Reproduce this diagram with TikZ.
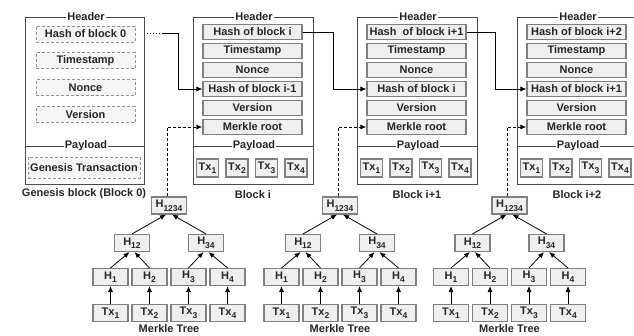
\documentclass[tikz,border=0pt]{standalone}
\usepackage{fontspec}
\setmainfont{Liberation Sans}
\usetikzlibrary{arrows.meta}
\definecolor{boxfill}{HTML}{EFEFEF}
\definecolor{boxline}{HTML}{808080}
\definecolor{framecol}{HTML}{4A4A4A}
\definecolor{ink}{HTML}{262626}
% lowered index used for Tx_k and H_k labels
\newcommand\lowidx[1]{\raisebox{-0.32em}{\fontsize{8.5}{9}\selectfont #1}}

\begin{document}
\begin{tikzpicture}[x=1pt,y=-1pt,
  every node/.style={font=\fontsize{11}{13}\selectfont\bfseries, text=ink},
  field/.style={draw=boxline, fill=boxfill, line width=1.1pt, minimum width=99pt, minimum height=15pt, inner sep=0pt},
  gfield/.style={draw=boxline!85, fill=boxfill!60, line width=0.9pt, dash pattern=on 3pt off 2pt, minimum width=99pt, minimum height=16pt, inner sep=0pt},
  txbox/.style={draw=boxline, fill=boxfill, line width=1.1pt, minimum width=22pt, minimum height=18pt, inner sep=0pt},
  hbox/.style={draw=boxline, fill=boxfill, line width=1.1pt, minimum width=35pt, minimum height=17pt, inner sep=0pt},
  frm/.style={draw=framecol, line width=0.9pt},
  sectag/.style={fill=white, inner sep=1pt},
  link/.style={draw=black, line width=0.8pt, -{Latex[length=6pt,width=5pt]}},
  dlink/.style={link, dash pattern=on 3pt off 2pt, line width=1pt},
  dotline/.style={draw=black, line width=1.1pt, dash pattern=on 1.1pt off 1.9pt}
]
\useasboundingbox (0,0) rectangle (634,335);
\clip (0,0) rectangle (634,335);

% genesis block
\draw[frm] (25,17) rectangle (144,184);
\draw[frm] (25,146) -- (144,146);
\node[sectag] at (86,17) {Header};
\node[sectag] at (86,146) {Payload};
\node[gfield] (g0) at (85.5,34) {Hash of block 0};
\node[gfield] (g1) at (85.5,60.5) {Timestamp};
\node[gfield] (g2) at (85.5,87.5) {Nonce};
\node[gfield] (g3) at (85.5,114.5) {Version};
\node[gfield, minimum width=112pt, minimum height=21pt] (gtx) at (84,167.5) {Genesis Transaction};
\node (glabel) at (84,194) {Genesis block (Block 0)};

% chained blocks
\foreach \L/\n/\own/\prev/\cap in {
  193/1/{Hash of block i}/{Hash of block i-1}/{Block i},
  357/2/{Hash~ of block i+1}/{Hash of block i}/{Block i+1},
  517/3/{Hash of block i+2}/{Hash of block i+1}/{Block i+2}} {
  \draw[frm] (\L,17) rectangle ({\L+120},184);
  \draw[frm] (\L,146) -- ({\L+120},146);
  \node[sectag] (hd\n) at ({\L+61},17) {Header};
  \node[sectag] (pl\n) at ({\L+61},146) {Payload};
  \node[field] (own\n) at ({\L+59.5},32) {\own};
  \node[field] (ts\n) at ({\L+59.5},51) {Timestamp};
  \node[field] (nc\n) at ({\L+59.5},70) {Nonce};
  \node[field] (prev\n) at ({\L+59.5},89) {\prev};
  \node[field] (ver\n) at ({\L+59.5},108) {Version};
  \node[field] (root\n) at ({\L+59.5},127) {Merkle root};
  \foreach \k/\dx in {1/14.5,2/44,3/73.5,4/103}
    \node[txbox] (p\n\k) at ({\L+\dx},168) {Tx\lowidx{\k}};
  \node (bl\n) at ({\L+60},195) {\cap};
}

% hash links between blocks
\coordinate (gd) at (147,33.5);
\coordinate (gb) at (163,33.5);
\draw[dotline] (gd) -- (gb);
\draw[link] (gb) -- ++(15,0) |- (prev1.west);
\draw[link] (own1.east) -- ++(31,0) |- (prev2.west);
\draw[link] (own2.east) -- ++(29,0) |- (prev3.west);

% Merkle trees
\foreach \c/\n in {169/1, 340/2, 509.5/3} {
  \node[hbox] (r\n) at (\c,205.5) {H\lowidx{1234}};
  \node[hbox] (a\n) at ({\c-37},243) {H\lowidx{12}};
  \node[hbox] (b\n) at ({\c+37},243) {H\lowidx{34}};
  \foreach \k/\dx in {1/-58.5,2/-19.5,3/19.5,4/58.5} {
    \node[hbox] (h\n\k) at ({\c+\dx},277) {H\lowidx{\k}};
    \node[hbox] (t\n\k) at ({\c+\dx},313) {Tx\lowidx{\k}};
    \draw[link] (t\n\k) -- (h\n\k);
  }
  \draw[link] (h\n1.north) -- ([xshift=-2.5pt]a\n.south);
  \draw[link] (h\n2.north) -- ([xshift=2.5pt]a\n.south);
  \draw[link] (h\n3.north) -- ([xshift=-2.5pt]b\n.south);
  \draw[link] (h\n4.north) -- ([xshift=2.5pt]b\n.south);
  \draw[link] (a\n.north) -- ([xshift=-3pt]r\n.south);
  \draw[link] (b\n.north) -- ([xshift=3pt]r\n.south);
  \node (mt\n) at (\c,329) {Merkle Tree};
  \draw[dlink] ([xshift=-2pt]r\n.north) |- (root\n.west);
}
\end{tikzpicture}
\end{document}
